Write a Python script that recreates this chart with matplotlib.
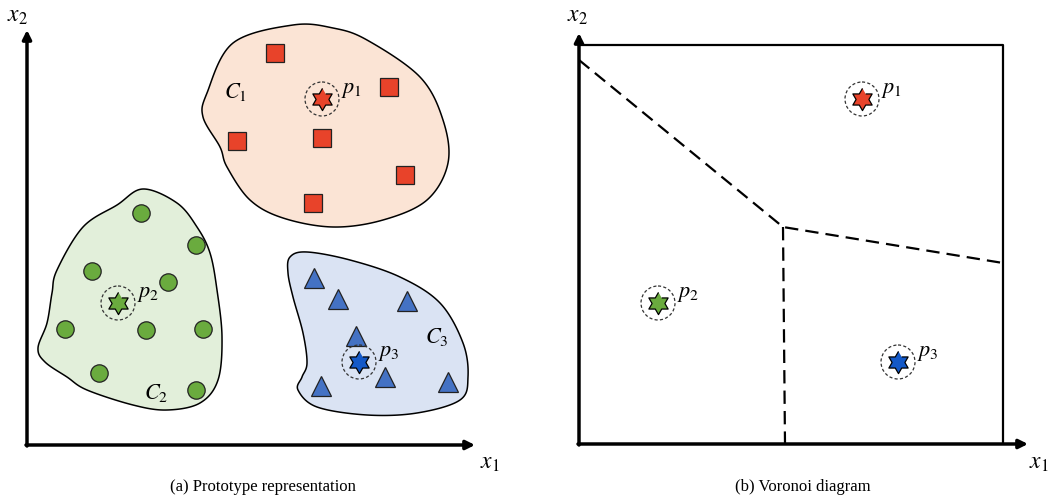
import numpy as np
import matplotlib.pyplot as plt
from matplotlib.patches import Polygon, Circle
from matplotlib.path import Path

plt.rcParams['mathtext.fontset'] = 'stix'

# cluster members (x, y in canvas pixels, y downward)
c1_x = [275, 389, 237, 322, 405, 313]
c1_y = [53, 87, 141, 138, 175, 203]
c2_x = [141, 196, 92, 168, 65, 146, 203, 99, 196]
c2_y = [213, 245, 271, 282, 329, 330, 329, 373, 390]
c3_x = [314, 338, 407, 356, 385, 321, 448]
c3_y = [278, 299, 301, 336, 377, 386, 382]

# prototypes
proto_a = [(322, 99), (118, 303), (359, 362)]
proto_b = [(862, 99), (658, 303), (898, 362)]
proto_names = ['$p_1$', '$p_2$', '$p_3$']

# cluster outlines
blob1 = [(293, 25), (333, 28), (367, 40), (420, 77), (443, 120), (448, 163),
         (427, 200), (383, 220), (333, 227), (283, 218), (250, 200), (227, 167),
         (220, 147), (203, 117), (207, 93), (233, 43)]
blob2 = [(143, 189), (177, 203), (197, 227), (210, 253), (217, 290), (222, 337),
         (218, 380), (200, 403), (167, 410), (133, 405), (87, 390), (67, 377),
         (45, 362), (38, 348), (47, 323), (52, 293), (57, 270), (83, 227), (117, 205)]
blob3 = [(290, 257), (307, 252), (350, 260), (400, 277), (440, 303), (463, 343),
         (468, 377), (460, 400), (417, 413), (367, 415), (317, 407), (298, 390),
         (302, 377), (307, 363), (303, 333), (293, 297), (288, 273)]

# voronoi edges
vor_x = [[579, 783, 1003], [783, 785]]
vor_y = [[60, 227, 263], [227, 444]]

red = '#E8432A'
green = '#6AAB3E'
blue = '#4472C4'
star_cols = [red, green, '#1459C8']
fills = ['#FBE4D5', '#E2EFDA', '#DAE3F3']

# six-pointed star (hexagram) marker
ang = np.pi / 2 + np.arange(12) * np.pi / 6
rad = np.where(np.arange(12) % 2 == 0, 1.0, 1 / np.sqrt(3))
hexagram = Path(np.column_stack([rad * np.cos(ang), rad * np.sin(ang)]), closed=False)


def smooth(pts, n=20):
    # closed Catmull-Rom curve through outline points
    p = np.array(pts, dtype=float)
    out = []
    m = len(p)
    t = np.linspace(0, 1, n, endpoint=False)[:, None]
    for i in range(m):
        p0, p1, p2, p3 = p[i - 1], p[i], p[(i + 1) % m], p[(i + 2) % m]
        seg = 0.5 * ((2 * p1) + (-p0 + p2) * t + (2 * p0 - 5 * p1 + 4 * p2 - p3) * t ** 2
                     + (-p0 + 3 * p1 - 3 * p2 + p3) * t ** 3)
        out.append(seg)
    return np.vstack(out)


def proto(ax, x, y, col, name):
    ax.add_patch(Circle((x, y), 17, fill=False, ls=(0, (2.5, 1.8)), lw=0.9, ec='#333333', zorder=4))
    ax.plot(x, y, marker=hexagram, ms=16, mfc=col, mec='black', mew=0.9, zorder=5)
    ax.text(x + 19, y - 9, name, fontsize=16, ha='left', va='center', zorder=6)


fig = plt.figure(figsize=(10.51, 4.99), dpi=100)
ax = fig.add_axes([0, 0, 1, 1])
ax.set_xlim(0, 1051)
ax.set_ylim(499, 0)
ax.axis('off')

# (a) clusters
for b, fc in zip([blob1, blob2, blob3], fills):
    ax.add_patch(Polygon(smooth(b), closed=True, fc=fc, ec='black', lw=1.1, zorder=1))

ax.plot(c1_x, c1_y, 's', ms=12.5, mfc=red, mec='#222222', mew=0.9, ls='none', zorder=3)
ax.plot(c2_x, c2_y, 'o', ms=12.5, mfc=green, mec='#222222', mew=0.9, ls='none', zorder=3)
ax.plot(c3_x, c3_y, '^', ms=14, mfc=blue, mec='#222222', mew=0.9, ls='none', zorder=3)

for (x, y), col, nm in zip(proto_a, star_cols, proto_names):
    proto(ax, x, y, col, nm)

ax.text(235, 92, '$C_1$', fontsize=16, ha='center', va='center')
ax.text(156, 393, '$C_2$', fontsize=16, ha='center', va='center')
ax.text(437, 337, '$C_3$', fontsize=16, ha='center', va='center')

# (a) axes
arrow = dict(arrowstyle='-|>', lw=2.5, color='black', mutation_scale=13, shrinkA=0, shrinkB=0)
ax.annotate('', xy=(27, 30), xytext=(27, 446), arrowprops=arrow)
ax.annotate('', xy=(475, 445), xytext=(26, 445), arrowprops=arrow)
ax.text(17, 15, '$x_2$', fontsize=17, ha='center', va='center')
ax.text(490, 462, '$x_1$', fontsize=17, ha='center', va='center')

# (b) voronoi
ax.plot([579, 1003, 1003], [45, 45, 444], color='black', lw=1.6, solid_capstyle='butt')
for xs, ys in zip(vor_x, vor_y):
    ax.plot(xs, ys, color='black', lw=1.6, dashes=(6, 3.2))
for (x, y), col, nm in zip(proto_b, star_cols, proto_names):
    proto(ax, x, y, col, nm)

ax.annotate('', xy=(579, 33), xytext=(579, 445), arrowprops=arrow)
ax.annotate('', xy=(1028, 444), xytext=(578, 444), arrowprops=arrow)
ax.text(577, 15, '$x_2$', fontsize=17, ha='center', va='center')
ax.text(1039, 462, '$x_1$', fontsize=17, ha='center', va='center')

ax.text(263, 487, '(a) Prototype representation', fontsize=12, family='Liberation Serif',
        ha='center', va='center')
ax.text(803, 487, '(b) Voronoi diagram', fontsize=12, family='Liberation Serif',
        ha='center', va='center')

fig.savefig('out.png', dpi=100)
